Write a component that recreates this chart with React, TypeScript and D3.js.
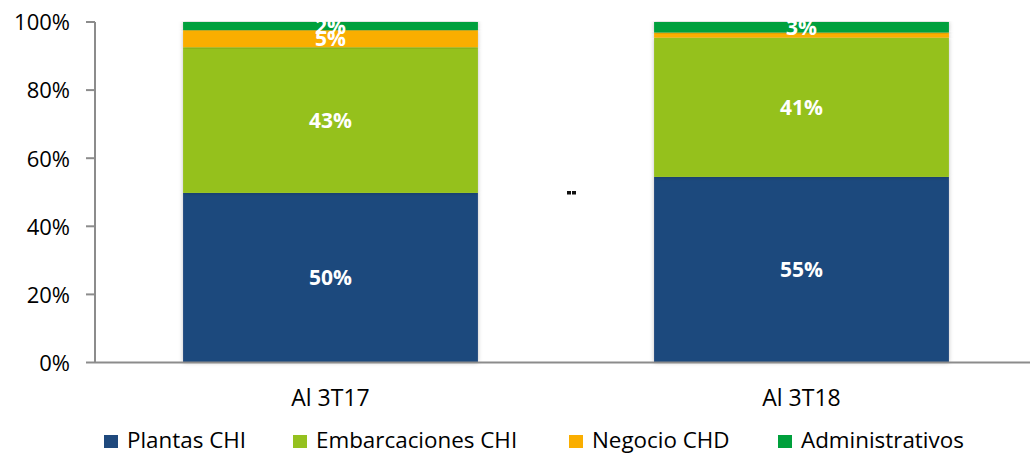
import React from "react";
import * as d3 from "d3";

const categories = ["Al 3T17", "Al 3T18"];
const seriesNames = ["Plantas CHI", "Embarcaciones CHI", "Negocio CHD", "Administrativos"];
const plantas = [49.8, 54.5];
const embarcaciones = [42.8, 40.9];
const negocio = [5.0, 1.5];
const administrativos = [2.4, 3.1];
const colors = ["#1F497D", "#95C11F", "#FAAE00", "#00A03C"];
const yTicks = [0, 20, 40, 60, 80, 100];

const W = 1030;
const H = 455;
const FONT = "'Open Sans', 'Noto Sans', sans-serif";

export default function App() {
  const x = d3
    .scaleBand<string>()
    .domain(categories)
    .range([95, 1037])
    .paddingInner(0.374)
    .paddingOuter(0.187);
  const y = d3.scaleLinear().domain([0, 100]).range([362.5, 22]);

  const table = categories.map((c, i) => ({
    cat: c,
    [seriesNames[0]]: plantas[i],
    [seriesNames[1]]: embarcaciones[i],
    [seriesNames[2]]: negocio[i],
    [seriesNames[3]]: administrativos[i],
  }));
  const stack = d3.stack<any>().keys(seriesNames)(table);

  const legendX = [104, 293, 569, 778];

  return (
    <div style={{ position: "absolute", left: 0, top: 0 }}>
      <svg width={W} height={H} style={{ display: "block", background: "#fff" }}>
        <defs>
          <filter id="sh" x="-5%" y="-5%" width="110%" height="110%">
            <feDropShadow dx="0" dy="0" stdDeviation="2" floodColor="#000" floodOpacity="0.25" />
          </filter>
        </defs>
        {/* bars */}
        {stack.map((layer, si) => (
          <g key={si}>
            {layer.map((d, ci) => (
              <rect
                key={ci}
                x={x(categories[ci])!}
                width={x.bandwidth()}
                y={y(d[1])}
                height={y(d[0]) - y(d[1])}
                fill={colors[si]}
                filter="url(#sh)"
              />
            ))}
          </g>
        ))}
        {/* bar labels */}
        {stack.map((layer, si) =>
          layer.map((d, ci) => {
            const v = d[1] - d[0];
            if (v < 2) return null;
            return (
              <text
                key={`${si}-${ci}`}
                x={x(categories[ci])! + x.bandwidth() / 2}
                y={y((d[0] + d[1]) / 2)}
                dy="0.36em"
                textAnchor="middle"
                fill="#fff"
                fontWeight="bold"
                fontSize={21}
                fontFamily={FONT}
              >
                {Math.round(v)}%
              </text>
            );
          })
        )}
        {/* axes */}
        <line x1={95} x2={1030} y1={y(0)} y2={y(0)} stroke="#8C8C8C" strokeWidth={2} />
        <line x1={95} x2={95} y1={y(0)} y2={y(100)} stroke="#8C8C8C" strokeWidth={2} />
        {yTicks.map((t) => (
          <g key={t}>
            <line x1={86} x2={95} y1={y(t)} y2={y(t)} stroke="#8C8C8C" strokeWidth={2} />
            <text
              x={70}
              y={y(t)}
              dy="0.38em"
              textAnchor="end"
              fontSize={22}
              fontFamily={FONT}
              fill="#000"
            >
              {t}%
            </text>
          </g>
        ))}
        {categories.map((c) => (
          <text
            key={c}
            x={x(c)! + x.bandwidth() / 2}
            y={406}
            textAnchor="middle"
            fontSize={23}
            fontFamily={FONT}
            fill="#000"
          >
            {c}
          </text>
        ))}
        {/* stray mark */}
        <rect x={567} y={191} width={4} height={3.5} fill="#111" />
        <rect x={572} y={191} width={4} height={3.5} fill="#111" />
        {/* legend */}
        {seriesNames.map((s, i) => (
          <g key={s}>
            <rect x={legendX[i]} y={435} width={14} height={13} fill={colors[i]} />
            <text x={legendX[i] + 23} y={448} fontSize={22.4} fontFamily={FONT} fill="#000">
              {s}
            </text>
          </g>
        ))}
      </svg>
    </div>
  );
}
